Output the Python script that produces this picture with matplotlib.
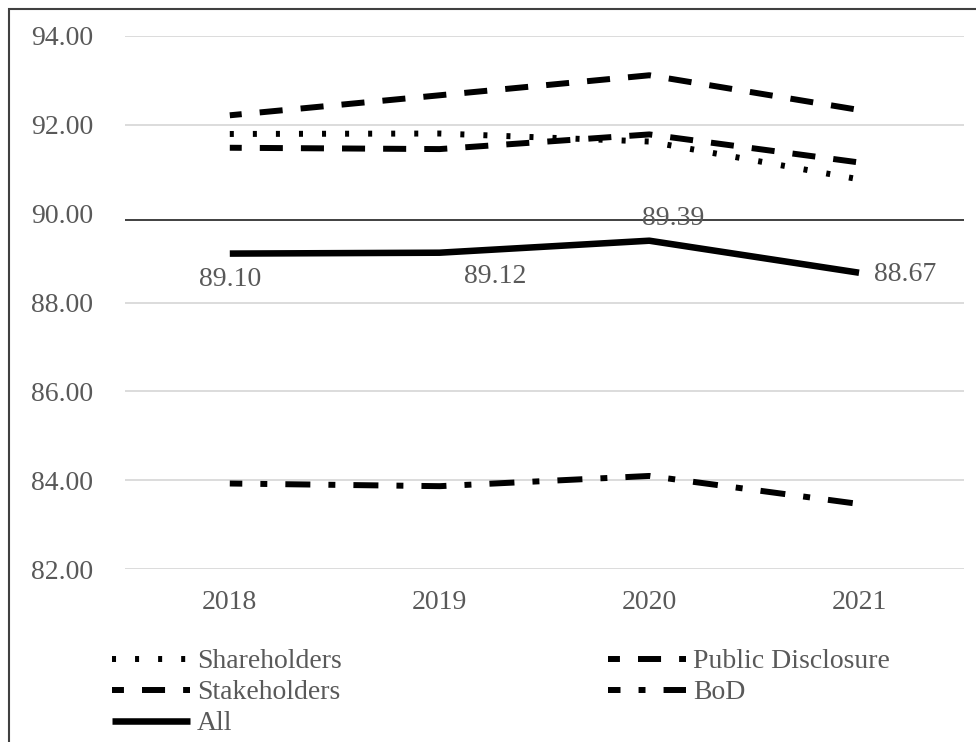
import matplotlib.pyplot as plt
from matplotlib.patches import Rectangle

# Dados por ano
anos = ['2018', '2019', '2020', '2021']
shareholders = [91.79, 91.80, 91.62, 90.77]
public_disclosure = [92.21, 92.66, 93.11, 92.33]
stakeholders = [91.48, 91.45, 91.78, 91.15]
bod = [83.93, 83.87, 84.10, 83.47]
todos = [89.10, 89.12, 89.39, 88.67]
linha_ref = 89.85

plt.rcParams['font.family'] = ['Liberation Serif', 'DejaVu Serif']
plt.rcParams['lines.scale_dashes'] = False

cinza = '#595959'
tam = 20

fig = plt.figure(figsize=(9.76, 7.42), dpi=100)
ax = fig.add_axes([0.128, 0.2327, 0.8596, 0.7192])

x = range(len(anos))

# Linhas
ax.plot(x, shareholders, color='black', lw=4.3, dash_capstyle='butt',
        linestyle=(0, (2.9, 13.7)), label='Shareholders')
ax.plot(x, public_disclosure, color='black', lw=4.3, dash_capstyle='butt',
        linestyle=(8, (16.6, 13)), label='Public Disclosure')
ax.plot(x, stakeholders, color='black', lw=4.3, dash_capstyle='butt',
        linestyle=(8, (16.6, 13)), label='Stakeholders')
ax.plot(x, bod, color='black', lw=4.3, dash_capstyle='butt',
        linestyle=(9, (18, 13, 5, 13)), label='BoD')
ax.plot(x, todos, color='black', lw=4.7, solid_capstyle='butt', label='All')

# Rótulos da série All
deslocamentos = [(0, -19), (40, -17), (17, 16), (33, -1)]
for i, v in enumerate(todos):
    ax.annotate(f'{v:.2f}', (i, v), xytext=deslocamentos[i], textcoords='offset points',
                ha='center', va='center', fontsize=tam, color=cinza)

ax.axhline(linha_ref, color='#404040', lw=1.4, zorder=1)

# Eixos
ax.set_xlim(-0.5, 3.5)
ax.set_ylim(82, 94)
ax.set_yticks([82, 84, 86, 88, 90, 92, 94])
ax.set_yticklabels([f'{t:.2f}' for t in ax.get_yticks()])
ax.set_xticks(list(x))
ax.set_xticklabels(anos)
ax.tick_params(axis='both', length=0, labelsize=tam, labelcolor=cinza)
ax.tick_params(axis='y', pad=23)
ax.tick_params(axis='x', pad=15)
ax.yaxis.grid(True, color='#d9d9d9', lw=1.3)
ax.set_axisbelow(True)
for s in ax.spines.values():
    s.set_visible(False)

# Remove a grade em 90 (fica a linha de referência)
ax.get_ygridlines()[4].set_visible(False)

# Legenda (duas colunas, ordem por linha)
h, l = ax.get_legend_handles_labels()
ordem = [0, 2, 4, 1, 3]
leg = fig.legend([h[i] for i in ordem], [l[i] for i in ordem], ncol=2, frameon=False,
                 loc='upper left', bbox_to_anchor=(112 / 976, 1 - 649 / 742),
                 fontsize=tam, handlelength=2.8, handletextpad=0.25,
                 columnspacing=9.6, labelspacing=0.2, borderpad=0, borderaxespad=0)
for t in leg.get_texts():
    t.set_color(cinza)

# Moldura
fig.patches.append(Rectangle((9 / 976, -0.1), 1.2, 1 - 9 / 742 + 0.1, transform=fig.transFigure,
                             fill=False, edgecolor='#404040', lw=1.5))

fig.savefig('out.png', dpi=100)
